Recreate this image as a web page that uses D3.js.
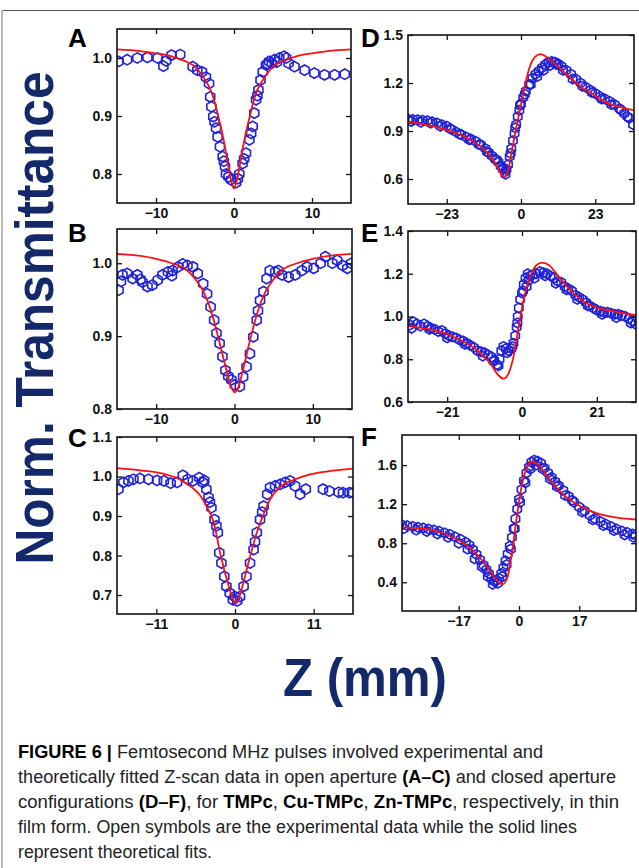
<!DOCTYPE html>
<html>
<head>
<meta charset="utf-8">
<script src="https://cdn.jsdelivr.net/npm/d3@7"></script>
<style>
  body { margin: 0; background: #fff; }
  svg { display: block; font-family: "Liberation Sans", Arial, sans-serif; }
</style>
</head>
<body>
<div id="display"></div>
<script>
// open aperture, TMPc (A)
var dataA = [[-14.8,0.994],[-13.7,0.997],[-12.4,1.0],[-11.1,1.001],[-9.8,1.0],[-9.05,0.986],[-8.7,0.995],[-8.0,1.005],[-6.9,1.006],
  [-5.3,0.985],[-4.7,0.979],[-4.1,0.976],[-3.6,0.967],[-3.2,0.956],[-3.05,0.933],[-2.9,0.916],[-2.66,0.899],[-2.3,0.879],[-2.1,0.864],
  [-1.8,0.847],[-1.45,0.83],[-1.16,0.813],[-1.03,0.80],[-0.7,0.795],[-0.39,0.79],[0.26,0.785],[0.5,0.792],[0.68,0.80],[1.1,0.818],
  [1.54,0.836],[1.97,0.859],[2.4,0.882],[2.6,0.905],[2.83,0.928],[3.13,0.945],[3.4,0.962],[3.69,0.976],[4.1,0.988],[4.5,0.994],
  [4.85,0.991],[5.2,0.997],[5.8,1.0],[6.4,1.003],[6.7,1.0],[7.0,0.991],[7.76,0.985],[9.05,0.979],[10.3,0.974],[11.6,0.971],
  [12.9,0.971],[14.2,0.972],[-2.5,0.89],[-1.3,0.822],[1.3,0.826],[2.2,0.87],[3.0,0.935],[4.3,0.99],[5.5,0.993]];
var fitA = [[-15,1.015],[-12,1.012],[-10,1.008],[-8,1.003],[-6,0.993],[-5,0.985],[-4,0.968],[-3,0.945],[-2.5,0.925],[-2,0.898],
  [-1.5,0.87],[-1,0.835],[-0.5,0.797],[0,0.775],[0.5,0.797],[1,0.835],[1.5,0.87],[2,0.898],[2.5,0.925],[3,0.945],[4,0.968],
  [5,0.985],[6,0.993],[8,1.003],[10,1.008],[12,1.012],[15,1.015]];

// open aperture, Cu-TMPc (B)
var dataB = [[-14.8,0.963],[-14.3,0.984],[-13.7,0.986],[-13.0,0.979],[-12.4,0.984],[-11.75,0.974],[-11.1,0.968],[-10.5,0.970],
  [-9.8,0.977],[-9.2,0.984],[-8.5,0.988],[-7.9,0.990],[-7.2,0.995],[-6.6,0.999],[-6.0,0.997],[-5.3,0.995],[-4.7,0.986],[-4.0,0.972],
  [-3.5,0.958],[-3.05,0.940],[-2.6,0.922],[-2.3,0.904],[-1.9,0.890],[-1.54,0.872],[-1.16,0.853],[-0.39,0.840],[0.04,0.833],
  [0.68,0.831],[1.1,0.844],[1.54,0.858],[1.97,0.876],[2.4,0.899],[2.83,0.922],[3.26,0.949],[3.7,0.961],[4.1,0.979],[4.5,0.990],
  [5.2,0.988],[6.05,0.984],[6.9,0.981],[7.76,0.984],[8.6,0.990],[9.27,0.995],[10.1,0.993],[11.0,1.0],[11.6,1.009],[12.5,1.0],
  [13.1,1.004],[13.8,0.997],[14.4,0.993],[14.9,1.0],[-14.5,0.975],[-12.0,0.978],[-8.0,0.983],[-0.8,0.845],[3.0,0.935],[5.6,0.99]];
var fitB = [[-15,1.013],[-12,1.010],[-10,1.006],[-8,1.0],[-6,0.99],[-5,0.978],[-4,0.962],[-3,0.935],[-2,0.895],[-1,0.852],
  [-0.5,0.833],[0,0.823],[0.5,0.83],[1,0.85],[2,0.895],[3,0.935],[4,0.962],[5,0.978],[6,0.99],[8,1.0],[10,1.006],[12,1.010],[15,1.013]];

// open aperture, Zn-TMPc (C)
var dataC = [[-16.3,0.968],[-15.6,0.985],[-14.9,0.989],[-14.2,0.993],[-13.3,0.995],[-12.1,0.993],[-10.9,0.99],[-9.95,0.989],
  [-9.0,0.983],[-8.1,0.985],[-7.3,1.003],[-6.6,0.993],[-5.9,0.989],[-5.0,0.997],[-4.5,0.985],[-4.0,0.968],[-3.7,0.947],[-3.3,0.921],
  [-2.87,0.891],[-2.4,0.858],[-2.2,0.807],[-1.9,0.781],[-1.5,0.747],[-1.2,0.722],[-0.74,0.705],[-0.03,0.696],[0.7,0.696],[1.2,0.722],
  [1.6,0.747],[2.1,0.781],[2.6,0.815],[3.05,0.858],[3.5,0.891],[4.0,0.925],[4.5,0.955],[4.9,0.972],[5.6,0.976],[6.3,0.98],[7.0,0.985],
  [7.7,0.989],[8.4,0.976],[9.1,0.955],[9.9,0.968],[12.3,0.968],[13.2,0.963],[15.1,0.959],[16.0,0.959],[16.5,0.959],
  [-4.3,0.99],[-3.5,0.935],[-2.6,0.875],[-0.3,0.688],[0.3,0.685],[2.8,0.835],[3.8,0.91],[14.5,0.96]];
var fitC = [[-16.5,1.021],[-13,1.015],[-10,1.007],[-8,0.995],[-6,0.972],[-5,0.955],[-4,0.925],[-3,0.885],[-2,0.8],[-1,0.73],
  [-0.5,0.7],[0,0.68],[0.5,0.69],[1,0.72],[2,0.79],[3,0.855],[4,0.905],[5,0.945],[6,0.968],[7,0.982],[8,0.99],[10,1.003],[13,1.013],[16.5,1.02]];

// closed aperture, TMPc (D)
var dataD = [[-35,0.975],[-33.5,0.972],[-32,0.97],[-30.5,0.968],[-29,0.965],[-27.5,0.958],[-26,0.95],[-24.5,0.94],[-23,0.93],
  [-21.5,0.91],[-20,0.893],[-18.5,0.878],[-17,0.862],[-15.5,0.85],[-14,0.835],[-12.5,0.815],[-11,0.79],[-10,0.765],[-9,0.745],
  [-8,0.725],[-7,0.705],[-6.3,0.68],[-5.6,0.66],[-5,0.645],[-4.5,0.66],[-4,0.69],[-3.5,0.74],[-3,0.79],[-2.5,0.84],[-2,0.885],
  [-1.5,0.94],[-1,0.99],[-0.5,1.03],[0,1.07],[0.7,1.11],[1.5,1.15],[2.5,1.19],[3.5,1.23],[4.5,1.255],[5.5,1.275],[6.5,1.295],
  [7.5,1.315],[8.5,1.33],[9.5,1.335],[10.5,1.33],[11.5,1.32],[12.5,1.305],[14,1.28],[15.5,1.255],[17,1.225],[18.5,1.2],[20,1.175],
  [21.5,1.155],[23,1.135],[24.5,1.115],[26,1.1],[27.5,1.085],[29,1.065],[30.5,1.04],[32,1.01],[33.5,0.98],[34.7,0.94],
  [-34,0.96],[-31,0.955],[-28,0.95],[-25,0.93],[-22,0.915],[-19,0.88],[-16,0.845],[-13,0.815],[-10.5,0.77],[-7.5,0.72],[-5.5,0.67],
  [-4.8,0.63],[-3.2,0.76],[-1.8,0.92],[-0.3,1.06],[1.2,1.13],[3,1.19],[5,1.24],[7,1.28],[9,1.31],[11,1.315],[13,1.28],[16,1.225],
  [19,1.18],[22,1.14],[25,1.1],[28,1.065],[31,1.03],[33,0.99]];
var fitD = [[-35,0.958],[-24.7,0.917],[-16.5,0.854],[-11.3,0.781],[-8.2,0.708],[-6.2,0.635],[-5.1,0.614],[-4.1,0.646],[-2.6,0.802],
  [-1.0,0.969],[0.5,1.115],[2.1,1.26],[3.6,1.344],[5.1,1.375],[6.2,1.381],[7.7,1.365],[10.3,1.323],[14.4,1.25],[18.5,1.177],
  [22.6,1.125],[26.8,1.073],[30.9,1.048],[35,1.031]];

// closed aperture, Cu-TMPc (E)
var dataE = [[-31.5,0.96],[-30.5,0.975],[-29.5,0.965],[-28.5,0.955],[-27.5,0.965],[-26.5,0.955],[-25.5,0.945],[-24.5,0.94],
  [-23.5,0.93],[-22.5,0.935],[-21.5,0.92],[-20.5,0.91],[-19.5,0.905],[-18.5,0.9],[-17.5,0.89],[-16.5,0.885],[-15.5,0.875],
  [-14.5,0.865],[-13.5,0.855],[-12.5,0.84],[-11.5,0.835],[-10.5,0.83],[-9.5,0.82],[-8.5,0.81],[-7.8,0.795],[-7,0.775],[-6.3,0.8],
  [-5.8,0.84],[-5.2,0.86],[-4.5,0.85],[-3.8,0.84],[-3,0.85],[-2.4,0.875],[-1.9,0.91],[-1.5,0.95],[-1.2,1.0],[-0.9,1.04],[-0.5,1.08],
  [0,1.11],[0.5,1.15],[1,1.18],[1.6,1.2],[1.9,1.17],[2.3,1.19],[3,1.195],[4,1.2],[5,1.21],[6,1.205],[7,1.2],[8,1.19],[9,1.18],
  [10,1.165],[11,1.16],[12,1.14],[13,1.13],[14,1.12],[15,1.1],[16,1.09],[17,1.08],[18,1.065],[19,1.05],[20,1.04],[21,1.03],
  [22,1.025],[23,1.02],[24,1.02],[25,1.015],[26,1.01],[27,1.01],[28,1.005],[29,1.0],[30,0.99],[31,0.98],[31.8,0.965],
  [-31,0.945],[-26,0.94],[-21,0.9],[-16,0.87],[-11,0.815],[-8,0.79],[-6.6,0.77],[-4.2,0.83],[-2.7,0.86],[-1.3,0.97],[0.3,1.12],
  [1.3,1.14],[3.5,1.18],[6.5,1.19],[9.5,1.155],[12.5,1.125],[15.5,1.08],[18.5,1.05],[22.5,1.01],[26.5,0.995],[30.5,0.97]];
var fitE = [[-32,0.955],[-24.8,0.936],[-18.2,0.897],[-12.6,0.842],[-8.9,0.78],[-6.6,0.725],[-5.2,0.709],[-3.8,0.733],[-2.4,0.811],
  [-0.95,0.951],[0.45,1.077],[2.3,1.186],[4.1,1.241],[5.6,1.252],[7.5,1.241],[10.7,1.178],[14.5,1.108],[18.2,1.061],[21.9,1.038],
  [26.6,1.022],[32,1.006]];

// closed aperture, Zn-TMPc (F)
var dataF = [[-33,0.99],[-31.5,0.98],[-30,0.972],[-28.5,0.963],[-27,0.955],[-25.5,0.945],[-24,0.935],[-22.5,0.922],[-21,0.905],
  [-19.5,0.89],[-18,0.865],[-16.5,0.84],[-15,0.81],[-14,0.78],[-13,0.735],[-12,0.685],[-11,0.63],[-10,0.575],[-9.2,0.53],[-8.5,0.49],
  [-7.8,0.44],[-7,0.41],[-6.3,0.42],[-5.6,0.44],[-5,0.49],[-4.4,0.55],[-3.8,0.62],[-3.2,0.69],[-2.6,0.77],[-2,0.86],[-1.5,0.95],
  [-1,1.05],[-0.5,1.15],[0,1.25],[0.7,1.35],[1.4,1.44],[2.1,1.52],[2.8,1.58],[3.5,1.63],[4.3,1.65],[5.2,1.64],[6.2,1.62],[7.2,1.57],
  [8.2,1.52],[9.2,1.475],[10.2,1.43],[11.2,1.39],[12.5,1.34],[14,1.28],[15.5,1.22],[17,1.17],[18.5,1.13],[20,1.085],[21.5,1.05],
  [23,1.02],[24.5,0.995],[26,0.97],[27.5,0.945],[29,0.925],[30.5,0.91],[32,0.895],[32.8,0.885],
  [-32.5,0.95],[-29,0.935],[-26,0.92],[-23,0.895],[-20,0.86],[-17,0.8],[-14.5,0.74],[-12.5,0.64],[-10.5,0.56],[-8.8,0.46],
  [-7.4,0.38],[-6,0.39],[-4.7,0.46],[-3.5,0.58],[-2.3,0.74],[-1.2,0.95],[0.3,1.22],[1.8,1.42],[3.2,1.56],[4.8,1.6],[6.7,1.56],
  [8.7,1.46],[10.7,1.38],[13,1.29],[15,1.24],[17.8,1.12],[20.8,1.04],[23.8,0.98],[26.8,0.93],[29.8,0.885],[32.3,0.86]];
var fitF = [[-33,0.963],[-26.2,0.947],[-19.7,0.877],[-14.0,0.757],[-10.3,0.620],[-7.5,0.482],[-5.6,0.396],[-4.7,0.379],[-3.3,0.447],
  [-1.9,0.723],[-0.5,1.101],[0.9,1.411],[2.3,1.583],[3.7,1.634],[5.6,1.6],[8.4,1.463],[12.2,1.308],[16.9,1.187],[22.5,1.101],
  [28.1,1.060],[33,1.043]];

// tick labels
var xTicksAB = [-10, 0, 10], xTicksC = [-11, 0, 11];
var xTicksD = [-23, 0, 23], xTicksE = [-21, 0, 21], xTicksF = [-17, 0, 17];
var yTicksA = [0.8, 0.9, 1.0], yTicksB = [0.8, 0.9, 1.0], yTicksC = [0.7, 0.8, 0.9, 1.0, 1.1];
var yTicksD = [0.6, 0.9, 1.2, 1.5], yTicksE = [0.6, 0.8, 1.0, 1.2, 1.4], yTicksF = [0.4, 0.8, 1.2, 1.6];

var caption = [
  [["FIGURE 6 | ", true], ["Femtosecond MHz pulses involved experimental and", false]],
  [["theoretically fitted Z-scan data in open aperture ", false], ["(A\u2013C)", true], [" and closed aperture", false]],
  [["configurations ", false], ["(D\u2013F)", true], [", for ", false], ["TMPc", true], [", ", false], ["Cu-TMPc", true],
   [", ", false], ["Zn-TMPc", true], [", respectively, in thin", false]],
  [["film form. Open symbols are the experimental data while the solid lines", false]],
  [["represent theoretical fits.", false]]
];
var captionWidths = [525, 598, 601, 559, 194];

var panels = [
  {id: "A", data: dataA, fit: fitA, xd: [-15, 15], yd: [0.75, 1.05], xt: xTicksAB, yt: yTicksA, box: [117, 29, 351, 203], lab: [68, 47], r: 5.2},
  {id: "B", data: dataB, fit: fitB, xd: [-15, 15], yd: [0.8, 1.047], xt: xTicksAB, yt: yTicksB, box: [117, 229, 352, 409], lab: [68, 242], r: 5.2},
  {id: "C", data: dataC, fit: fitC, xd: [-16.5, 16.5], yd: [0.652, 1.1], xt: xTicksC, yt: yTicksC, box: [117, 437, 353, 614], lab: [68, 447], r: 5.2},
  {id: "D", data: dataD, fit: fitD, xd: [-35, 35], yd: [0.444, 1.5], xt: xTicksD, yt: yTicksD, box: [408, 35, 634, 204], lab: [361, 47], r: 4.8},
  {id: "E", data: dataE, fit: fitE, xd: [-32, 32], yd: [0.6, 1.4], xt: xTicksE, yt: yTicksE, box: [408, 231, 636, 402], lab: [361, 242], r: 4.8},
  {id: "F", data: dataF, fit: fitF, xd: [-33, 33], yd: [0.106, 1.908], xt: xTicksF, yt: yTicksF, box: [402, 435, 636, 611], lab: [361, 446], r: 4.8}
];

var W = 639, H = 868;
var blue = "#1f22d6", red = "#ff1010", navy = "#14296a";

var svg = d3.select("#display").append("svg").attr("width", W).attr("height", H);

// frame of the figure
svg.append("line").attr("x1", 2).attr("x2", W).attr("y1", 10.5).attr("y2", 10.5).attr("stroke", "#555").attr("stroke-width", 1);
svg.append("line").attr("x1", 2).attr("x2", 2).attr("y1", 10).attr("y2", H).attr("stroke", "#bbb").attr("stroke-width", 2);

// hexagon marker, pointy top
function hexPath(r) {
  var pts = d3.range(6).map(function(i) {
    var a = Math.PI / 3 * i - Math.PI / 2;
    return [r * Math.cos(a), r * Math.sin(a)];
  });
  return "M" + pts.join("L") + "Z";
}

var fmt = d3.format(".1f");

panels.forEach(function(p) {
  var x0 = p.box[0], y0 = p.box[1], x1 = p.box[2], y1 = p.box[3];
  var x = d3.scaleLinear().domain(p.xd).range([x0, x1]);
  var y = d3.scaleLinear().domain(p.yd).range([y1, y0]);
  var g = svg.append("g");

  g.append("clipPath").attr("id", "clip" + p.id)
    .append("rect").attr("x", x0).attr("y", y0).attr("width", x1 - x0).attr("height", y1 - y0);

  var plot = g.append("g").attr("clip-path", "url(#clip" + p.id + ")");
  var hex = hexPath(p.r);
  plot.selectAll("path.pt").data(p.data).enter().append("path")
    .attr("class", "pt")
    .attr("d", hex)
    .attr("transform", function(d) { return "translate(" + x(d[0]) + "," + y(d[1]) + ")"; })
    .attr("fill", "none").attr("stroke", blue).attr("stroke-width", 1.6);

  var line = d3.line().x(function(d) { return x(d[0]); }).y(function(d) { return y(d[1]); }).curve(d3.curveMonotoneX);
  plot.append("path").datum(p.fit).attr("d", line).attr("fill", "none").attr("stroke", red).attr("stroke-width", 1.8);

  // axes with inward ticks, mirrored on top and right
  var axB = g.append("g").attr("transform", "translate(0," + y1 + ")")
    .call(d3.axisBottom(x).tickValues(p.xt).tickSizeInner(-5).tickSizeOuter(0).tickPadding(5).tickFormat(d3.format("d")));
  var axT = g.append("g").attr("transform", "translate(0," + y0 + ")")
    .call(d3.axisTop(x).tickValues(p.xt).tickSizeInner(-5).tickSizeOuter(0).tickFormat(""));
  var axL = g.append("g").attr("transform", "translate(" + x0 + ",0)")
    .call(d3.axisLeft(y).tickValues(p.yt).tickSizeInner(-5).tickSizeOuter(0).tickPadding(5).tickFormat(fmt));
  var axR = g.append("g").attr("transform", "translate(" + x1 + ",0)")
    .call(d3.axisRight(y).tickValues(p.yt).tickSizeInner(-5).tickSizeOuter(0).tickFormat(""));
  [axB, axT, axL, axR].forEach(function(a) {
    a.select(".domain").remove();
    a.selectAll("line").attr("stroke", "#111").attr("stroke-width", 1.3);
    a.selectAll("text").attr("font-size", 14).attr("font-weight", "bold").attr("fill", "#111")
      .attr("font-family", "'Liberation Sans', Arial, sans-serif");
  });

  g.append("rect").attr("x", x0).attr("y", y0).attr("width", x1 - x0).attr("height", y1 - y0)
    .attr("fill", "none").attr("stroke", "#111").attr("stroke-width", 1.6);

  g.append("text").attr("x", p.lab[0]).attr("y", p.lab[1]).text(p.id)
    .attr("font-size", 26).attr("font-weight", "bold").attr("fill", "#000");
});

// axis titles
svg.append("text").attr("transform", "translate(53,318) rotate(-90)")
  .attr("text-anchor", "middle").attr("font-size", 53).attr("font-weight", "bold").attr("fill", navy)
  .attr("textLength", 493).attr("lengthAdjust", "spacingAndGlyphs")
  .text("Norm. Transmittance");
svg.append("text").attr("x", 365).attr("y", 696)
  .attr("text-anchor", "middle").attr("font-size", 54).attr("font-weight", "bold").attr("fill", navy)
  .attr("textLength", 164).attr("lengthAdjust", "spacingAndGlyphs")
  .text("Z (mm)");

// caption
caption.forEach(function(segs, i) {
  var t = svg.append("text").attr("x", 18).attr("y", 758 + i * 25).attr("font-size", 17.5).attr("fill", "#222")
    .attr("textLength", captionWidths[i]).attr("lengthAdjust", "spacingAndGlyphs");
  segs.forEach(function(s) {
    t.append("tspan").text(s[0]).attr("font-weight", s[1] ? "bold" : "normal").attr("fill", s[1] ? "#000" : "#222");
  });
});
</script>
</body>
</html>
